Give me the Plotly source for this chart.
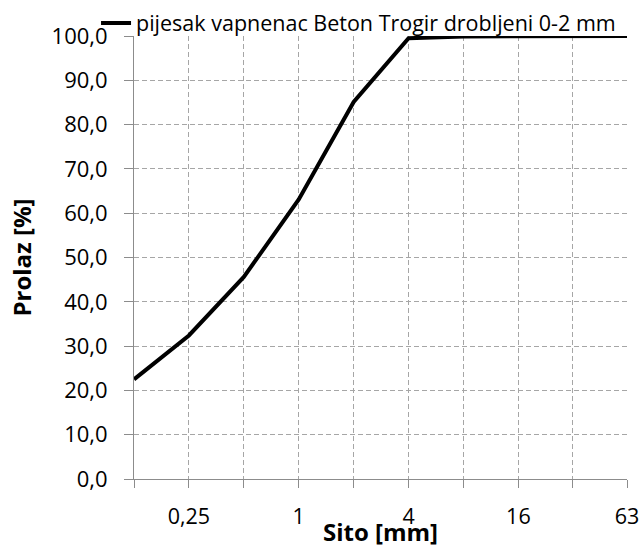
import plotly.graph_objects as go
import math

sieves = [0.125, 0.25, 0.5, 1, 2, 4, 8, 16, 31.5, 63]
passing = [22.5, 32.4, 45.6, 63.1, 85.1, 99.5, 99.9, 100.0, 100.0, 100.0]
tick_vals = [0.125, 0.25, 0.5, 1, 2, 4, 8, 16, 31.5, 63]
tick_text = ["", "0,25", "", "1", "", "4", "", "16", "", "63"]
y_ticks = [0, 10, 20, 30, 40, 50, 60, 70, 80, 90, 100]
y_text = [f"{v:.1f}".replace(".", ",") for v in y_ticks]
series_name = "pijesak vapnenac Beton Trogir drobljeni 0-2 mm"

FONT = "Open Sans"
fig = go.Figure()
fig.add_trace(go.Scatter(x=sieves, y=passing, mode="lines", name=series_name,
                         line=dict(color="black", width=4)))

grid = "#a6a6a6"
axcol = "#8c8c8c"
fig.update_layout(
    width=642, height=548,
    margin=dict(l=134, r=15, t=36, b=69, autoexpand=False),
    paper_bgcolor="white", plot_bgcolor="white",
    font=dict(family=FONT, size=22, color="black"),
    showlegend=True,
    legend=dict(orientation="h", x=-0.077, y=0.983, xanchor="left", yanchor="bottom",
                font=dict(size=21.5), bgcolor="rgba(0,0,0,0)", borderwidth=0,
                tracegroupgap=0),
    xaxis=dict(type="log", range=[math.log10(0.125), math.log10(63)],
               tickvals=tick_vals, ticktext=tick_text,
               showgrid=True, gridcolor=grid, griddash="5px,3px", gridwidth=1,
               showline=True, linecolor=axcol, linewidth=1,
               ticks="outside", ticklen=8, tickcolor=axcol,
               tickfont=dict(size=21.5), ticklabelstandoff=10,
               title=dict(text="<b>Sito [mm]</b>", font=dict(size=24), standoff=3),
               zeroline=False),
    yaxis=dict(range=[0, 100], tickvals=y_ticks, ticktext=y_text,
               showgrid=True, gridcolor=grid, griddash="5px,3px", gridwidth=1,
               showline=True, linecolor=axcol, linewidth=1,
               ticks="outside", ticklen=9, tickcolor=axcol,
               tickfont=dict(size=22), ticklabelstandoff=12,
               title=dict(text="<b>Prolaz [%]</b>", font=dict(size=24), standoff=13),
               zeroline=False),
)
fig.write_html(
    "out.html",
    config={"displayModeBar": False},
    post_script="document.body.style.margin='0';document.body.style.overflow='hidden';",
)
